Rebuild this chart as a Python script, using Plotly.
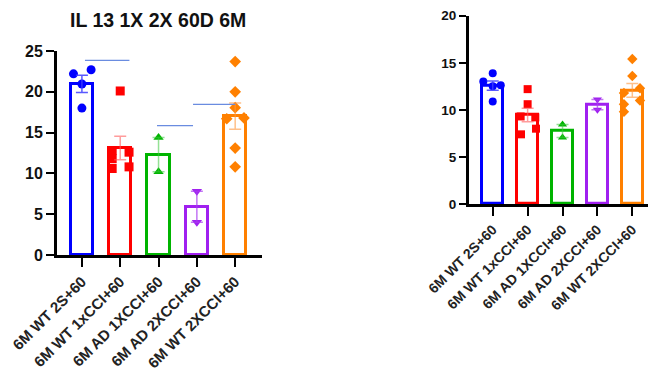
import numpy as np
import plotly.graph_objects as go

# ---------------- data ----------------
categories = ["6M WT 2S+60", "6M WT 1xCCI+60", "6M AD 1XCCI+60",
              "6M AD 2XCCI+60", "6M WT 2XCCI+60"]
title_left = "IL 13 1X 2X 60D 6M"
y_ticks_left = [0, 5, 10, 15, 20, 25]
y_ticks_right = [0, 5, 10, 15, 20]

# left panel values per group
left_wt_2s = [22.2, 22.7, 20.95, 18.0]
left_wt_1x = [20.1, 12.8, 11.8, 10.6, 12.6, 10.8]
left_ad_1x = [14.4, 10.2]
left_ad_2x = [7.8, 4.0]
left_wt_2x = [23.7, 20.0, 18.05, 16.7, 16.8, 13.1, 10.8]

# right panel values per group
right_wt_2s = [13.9, 13.0, 12.5, 12.6, 10.9]
right_wt_1x = [12.2, 10.6, 9.3, 9.2, 8.0, 7.4]
right_ad_1x = [8.45, 7.05]
right_ad_2x = [11.1, 10.0]
right_wt_2x = [15.4, 13.6, 12.3, 11.8, 11.0, 10.6, 9.8]

# comparison lines on left panel: (from category, to category, value)
left_sig_lines = [(0.08, 1.24, 23.85), (1.96, 2.9, 15.85), (2.9, 4.0, 18.45)]

# ---------------- styles / positions ----------------
left_jitter = [[-0.22, 0.24, 0, 0], [0, -0.21, -0.21, -0.21, 0.23, 0.23],
               [0, 0], [0, 0], [0, 0, 0, -0.22, 0.23, 0, 0]]
right_jitter = [[0, -0.27, 0, 0.23, 0], [0, 0, -0.2, 0.22, 0.24, -0.19],
                [0, 0], [0, 0], [0, 0, 0.22, -0.24, 0.22, -0.24, -0.24]]
colors = ["#0000FF", "#FF0000", "#00B400", "#A020F0", "#FF8000"]
err_colors = ["rgba(60,60,255,0.85)", "rgba(255,90,90,0.6)", "rgba(60,200,60,0.55)",
              "rgba(170,60,240,0.7)", "rgba(255,150,60,0.6)"]
symbols = ["circle", "square", "triangle-up", "triangle-down", "diamond"]
FONT = "Liberation Sans, Arial, sans-serif"

# page body has an 8px margin; figure is sized so that it ends at the window edge
OFF = 8
W, H = 656 - OFF, 372 - OFF


def px_x(p):
    return (p - OFF) / W


def px_y(p):
    return 1 - (p - OFF) / H


fig = go.Figure()


def add_panel(groups, jitter, xa, ya, msize, bar_w):
    means = [float(np.mean(g)) for g in groups]
    sems = [float(np.std(g, ddof=1) / np.sqrt(len(g))) for g in groups]
    xs = list(range(len(groups)))
    fig.add_trace(go.Bar(
        x=xs, y=means, width=bar_w, xaxis=xa, yaxis=ya,
        marker=dict(color="white", line=dict(color=colors, width=3)),
        showlegend=False, hoverinfo="skip"))
    for i, g in enumerate(groups):
        fig.add_trace(go.Scatter(
            x=[i + j for j in jitter[i]], y=g, mode="markers", xaxis=xa, yaxis=ya,
            marker=dict(color=colors[i], symbol=symbols[i], size=msize, line=dict(width=0)),
            showlegend=False, cliponaxis=False))
        fig.add_trace(go.Scatter(
            x=[i], y=[means[i]], mode="markers", xaxis=xa, yaxis=ya,
            marker=dict(size=1, color="rgba(0,0,0,0)"),
            error_y=dict(type="data", array=[sems[i]], symmetric=True,
                         color=err_colors[i], thickness=1.5, width=6),
            showlegend=False))


add_panel([left_wt_2s, left_wt_1x, left_ad_1x, left_ad_2x, left_wt_2x],
          left_jitter, "x", "y", 9, 0.58)
add_panel([right_wt_2s, right_wt_1x, right_ad_1x, right_ad_2x, right_wt_2x],
          right_jitter, "x2", "y2", 8, 0.6)

for x0, x1, yv in left_sig_lines:
    fig.add_shape(type="line", xref="x", yref="y", x0=x0, x1=x1, y0=yv, y1=yv,
                  line=dict(color="#6A8CE0", width=1.2))

axis_common = dict(showline=True, linecolor="black", linewidth=3, ticks="outside",
                   tickcolor="black", tickwidth=2, showgrid=False, zeroline=False,
                   automargin=False)

fig.update_layout(
    template="none",
    width=W, height=H, margin=dict(l=0, r=0, t=0, b=0, pad=0),
    paper_bgcolor="white", plot_bgcolor="white", bargap=0,
    xaxis=dict(domain=[px_x(57), px_x(262)], range=[-0.65, 4.7], tickvals=[0, 1, 2, 3, 4],
               ticktext=categories, tickangle=-45, ticklen=9, anchor="y",
               tickfont=dict(family=FONT, size=15, color="#222", weight="bold"),
               **axis_common),
    yaxis=dict(domain=[px_y(255), px_y(51)], range=[0, 25], tickvals=y_ticks_left,
               ticklen=8, anchor="x",
               tickfont=dict(family=FONT, size=16, color="#111", weight="bold"),
               **axis_common),
    xaxis2=dict(domain=[px_x(469), px_x(655)], range=[-0.68, 4.65], tickvals=[0, 1, 2, 3, 4],
                ticktext=categories, tickangle=-45, ticklen=9, anchor="y2",
                tickfont=dict(family=FONT, size=14, color="#222", weight="bold"),
                **axis_common),
    yaxis2=dict(domain=[px_y(204), px_y(15.7)], range=[0, 20], tickvals=y_ticks_right,
                ticklen=7, anchor="x2",
                tickfont=dict(family=FONT, size=13.5, color="#111", weight="bold"),
                **axis_common),
    annotations=[dict(text="<b>" + title_left + "</b>", x=px_x(158), y=1.0,
                      xref="paper", yref="paper", showarrow=False, xanchor="center",
                      yanchor="top", borderpad=0,
                      font=dict(family=FONT, size=19.5, color="#111"))],
)

fig.write_html("out.html")
